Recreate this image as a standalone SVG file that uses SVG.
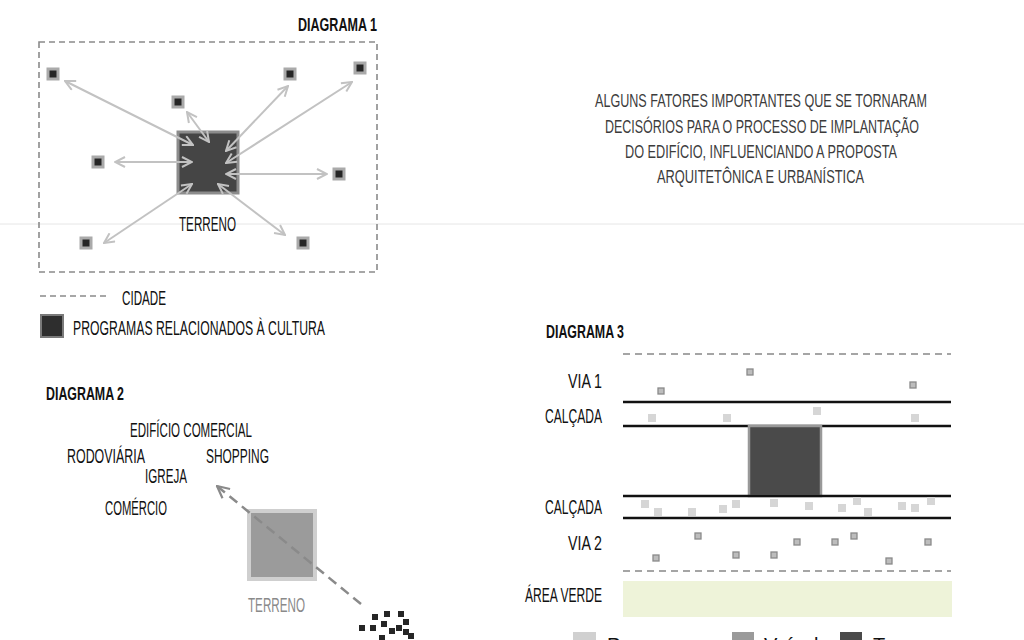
<svg xmlns="http://www.w3.org/2000/svg" width="1024" height="640" viewBox="0 0 1024 640">
<style>
text{font-family:"Liberation Sans","DejaVu Sans",sans-serif;fill:#111}
.t{font-size:20px}
.h{font-size:19px;font-weight:bold}
.p{font-size:19px;fill:#3c3c3c}
.city{fill:none;stroke:#8a8a8a;stroke-width:1.6;stroke-dasharray:6,4}
.prog{fill:#262626;stroke:#aaaaaa;stroke-width:3}
.rel{stroke:#c2c2c2;stroke-width:2;fill:none;marker-start:url(#chev);marker-end:url(#chev)}
.road{stroke:#111;stroke-width:2.5}
.dash3{stroke:#888;stroke-width:1.6;stroke-dasharray:7,5}
.car{fill:#bdbdbd;stroke:#8a8a8a;stroke-width:1.3}
.ped{fill:#d6d6d6}
.crowd{fill:#262626}
</style>
<defs>
<marker id="chev" viewBox="0 0 12 12" refX="11" refY="6" markerWidth="12" markerHeight="12" markerUnits="userSpaceOnUse" orient="auto-start-reverse">
<path d="M1,1 L11,6 L1,11" fill="none" stroke="#c2c2c2" stroke-width="2"/>
</marker>
<marker id="chev2" viewBox="0 0 14 14" refX="13" refY="7" markerWidth="14" markerHeight="14" markerUnits="userSpaceOnUse" orient="auto">
<path d="M1,1 L13,7 L1,13" fill="none" stroke="#8a8a8a" stroke-width="2.2"/>
</marker>
</defs>
<rect x="0" y="0" width="1024" height="640" fill="#ffffff"/>
<line x1="0" y1="224" x2="1024" y2="224" stroke="#e6e6e6" stroke-width="1"/>

<!-- DIAGRAMA 1 -->
<g id="diagrama1">
<text class="h" x="298" y="31" textLength="79" lengthAdjust="spacingAndGlyphs">DIAGRAMA 1</text>
<rect id="cidade" class="city" x="39" y="42" width="338" height="230"/>
<rect id="terreno1" x="178" y="132" width="60" height="61" fill="#454545" stroke="#8c8c8c" stroke-width="3"/>
<text class="t" x="179" y="231" textLength="57" lengthAdjust="spacingAndGlyphs">TERRENO</text>
</g>
<g id="programas">
<rect class="prog" x="48" y="69" width="10" height="10"/>
<rect class="prog" x="173" y="97" width="10" height="10"/>
<rect class="prog" x="285" y="69" width="10" height="10"/>
<rect class="prog" x="355" y="63" width="10" height="10"/>
<rect class="prog" x="93" y="157" width="10" height="10"/>
<rect class="prog" x="334" y="169" width="10" height="10"/>
<rect class="prog" x="81" y="238" width="10" height="10"/>
<rect class="prog" x="298" y="238" width="10" height="10"/>
</g>
<g id="conexoes1">
<line class="rel" x1="65" y1="81" x2="193" y2="145"/>
<line class="rel" x1="187" y1="112" x2="209" y2="142"/>
<line class="rel" x1="288" y1="86" x2="226" y2="151"/>
<line class="rel" x1="352" y1="82" x2="226" y2="163"/>
<line class="rel" x1="115" y1="162" x2="192" y2="162"/>
<line class="rel" x1="327" y1="174" x2="226" y2="174"/>
<line class="rel" x1="104" y1="243" x2="192" y2="184"/>
<line class="rel" x1="285" y1="235" x2="218" y2="184"/>
</g>

<!-- legenda 1 -->
<g id="legenda1">
<line class="city" x1="40" y1="296" x2="106" y2="296"/>
<text class="t" x="122" y="305" textLength="44" lengthAdjust="spacingAndGlyphs">CIDADE</text>
<rect x="41" y="315" width="22" height="22" fill="#2e2e2e" stroke="#7a7a7a" stroke-width="2"/>
<text class="t" x="73" y="335" textLength="252" lengthAdjust="spacingAndGlyphs">PROGRAMAS RELACIONADOS À CULTURA</text>
</g>

<!-- texto -->
<g id="texto">
<text class="p" x="595" y="107" textLength="332" lengthAdjust="spacingAndGlyphs">ALGUNS FATORES IMPORTANTES QUE SE TORNARAM</text>
<text class="p" x="605" y="133" textLength="314" lengthAdjust="spacingAndGlyphs">DECISÓRIOS PARA O PROCESSO DE IMPLANTAÇÃO</text>
<text class="p" x="625" y="158" textLength="272" lengthAdjust="spacingAndGlyphs">DO EDIFÍCIO, INFLUENCIANDO A PROPOSTA</text>
<text class="p" x="657" y="183" textLength="207" lengthAdjust="spacingAndGlyphs">ARQUITETÔNICA E URBANÍSTICA</text>
</g>

<!-- DIAGRAMA 2 -->
<g id="diagrama2">
<text class="h" x="46" y="400" textLength="78" lengthAdjust="spacingAndGlyphs">DIAGRAMA 2</text>
<text class="t" x="130" y="437" textLength="122" lengthAdjust="spacingAndGlyphs">EDIFÍCIO COMERCIAL</text>
<text class="t" x="67" y="463" textLength="78" lengthAdjust="spacingAndGlyphs">RODOVIÁRIA</text>
<text class="t" x="206" y="463" textLength="63" lengthAdjust="spacingAndGlyphs">SHOPPING</text>
<text class="t" x="145" y="483" textLength="42" lengthAdjust="spacingAndGlyphs">IGREJA</text>
<text class="t" x="105" y="515" textLength="62" lengthAdjust="spacingAndGlyphs">COMÉRCIO</text>
<rect id="terreno2" x="249" y="511" width="66" height="68" fill="#9b9b9b" stroke="#cfcfcf" stroke-width="4"/>
<text class="t" x="248" y="612" textLength="57" lengthAdjust="spacingAndGlyphs" style="fill:#8a8a8a">TERRENO</text>
</g>
<g id="conexoes2">
<line x1="361" y1="604" x2="217" y2="486" stroke="#8a8a8a" stroke-width="2.5" stroke-dasharray="10,6" marker-end="url(#chev2)"/>
</g>
<g id="populacao">
<rect class="crowd" x="372" y="614" width="6" height="6"/>
<rect class="crowd" x="384" y="611" width="6" height="6"/>
<rect class="crowd" x="398" y="611" width="6" height="6"/>
<rect class="crowd" x="403" y="619" width="6" height="6"/>
<rect class="crowd" x="381" y="621" width="6" height="6"/>
<rect class="crowd" x="359" y="625" width="6" height="6"/>
<rect class="crowd" x="370" y="625" width="6" height="6"/>
<rect class="crowd" x="389" y="628" width="6" height="6"/>
<rect class="crowd" x="396" y="625" width="6" height="6"/>
<rect class="crowd" x="403" y="629" width="6" height="6"/>
<rect class="crowd" x="408" y="633" width="6" height="6"/>
<rect class="crowd" x="379" y="635" width="6" height="6"/>
</g>

<!-- DIAGRAMA 3 -->
<g id="diagrama3">
<text class="h" x="546" y="338" textLength="78" lengthAdjust="spacingAndGlyphs">DIAGRAMA 3</text>
<text class="t" x="568" y="388" textLength="34" lengthAdjust="spacingAndGlyphs">VIA 1</text>
<text class="t" x="545" y="423" textLength="57" lengthAdjust="spacingAndGlyphs">CALÇADA</text>
<text class="t" x="545" y="514" textLength="57" lengthAdjust="spacingAndGlyphs">CALÇADA</text>
<text class="t" x="568" y="550" textLength="34" lengthAdjust="spacingAndGlyphs">VIA 2</text>
<text class="t" x="525" y="602" textLength="77" lengthAdjust="spacingAndGlyphs">ÁREA VERDE</text>
<line class="dash3" x1="623" y1="354" x2="951" y2="354"/>
<line class="road" x1="623" y1="402" x2="951" y2="402"/>
<line class="road" x1="623" y1="426" x2="951" y2="426"/>
<rect id="terreno3" x="749" y="426" width="72" height="70" fill="#4a4a4a" stroke="#999" stroke-width="2.5"/>
<line class="road" x1="623" y1="496" x2="951" y2="496"/>
<line class="road" x1="623" y1="518" x2="951" y2="518"/>
<line class="dash3" x1="623" y1="571" x2="951" y2="571"/>
<rect id="areaverde" x="623" y="581" width="329" height="36" fill="#eef3d9"/>
</g>
<g id="veiculos">
<rect class="car" x="747" y="369" width="6" height="6"/>
<rect class="car" x="658" y="388" width="6" height="6"/>
<rect class="car" x="910" y="382" width="6" height="6"/>
<rect class="car" x="695" y="533" width="6" height="6"/>
<rect class="car" x="653" y="555" width="6" height="6"/>
<rect class="car" x="733" y="552" width="6" height="6"/>
<rect class="car" x="771" y="552" width="6" height="6"/>
<rect class="car" x="794" y="539" width="6" height="6"/>
<rect class="car" x="832" y="539" width="6" height="6"/>
<rect class="car" x="851" y="533" width="6" height="6"/>
<rect class="car" x="886" y="558" width="6" height="6"/>
<rect class="car" x="925" y="539" width="6" height="6"/>
</g>
<g id="pessoas">
<rect class="ped" x="648" y="414" width="8" height="8"/>
<rect class="ped" x="723" y="414" width="8" height="8"/>
<rect class="ped" x="813" y="407" width="8" height="8"/>
<rect class="ped" x="911" y="414" width="8" height="8"/>
<rect class="ped" x="641" y="500" width="8" height="8"/>
<rect class="ped" x="654" y="508" width="8" height="8"/>
<rect class="ped" x="688" y="508" width="8" height="8"/>
<rect class="ped" x="719" y="505" width="8" height="8"/>
<rect class="ped" x="732" y="500" width="8" height="8"/>
<rect class="ped" x="770" y="499" width="8" height="8"/>
<rect class="ped" x="805" y="502" width="8" height="8"/>
<rect class="ped" x="838" y="504" width="8" height="8"/>
<rect class="ped" x="853" y="497" width="8" height="8"/>
<rect class="ped" x="864" y="508" width="8" height="8"/>
<rect class="ped" x="898" y="502" width="8" height="8"/>
<rect class="ped" x="911" y="504" width="8" height="8"/>
<rect class="ped" x="927" y="497" width="8" height="8"/>
</g>
<g id="legenda3">
<rect x="573" y="632" width="23" height="14" fill="#d0d0d0"/>
<text class="t" x="607" y="652">Pessoas</text>
<rect x="732" y="632" width="22" height="14" fill="#9a9a9a"/>
<text class="t" x="764" y="652">Veículos</text>
<rect x="840" y="632" width="22" height="14" fill="#4a4a4a"/>
<text class="t" x="873" y="652">Terreno</text>
</g>
</svg>
